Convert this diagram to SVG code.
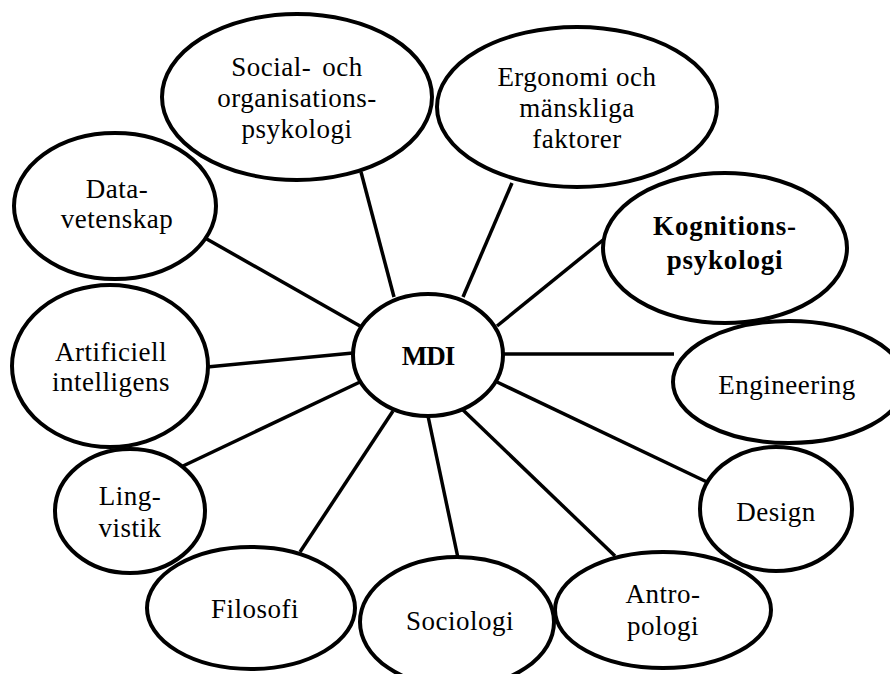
<svg xmlns="http://www.w3.org/2000/svg" width="890" height="674" viewBox="0 0 890 674">
  <style>
    .bg { fill: #ffffff; }
    .node ellipse { fill: none; stroke: #000000; stroke-width: 4; }
    .node text { font-family: "Liberation Serif", "Times New Roman", serif; font-size: 27px; letter-spacing: 0.5px; fill: #000000; text-anchor: middle; }
    .node text.bold { font-weight: bold; letter-spacing: 0.8px; }
    #mdi text { letter-spacing: -1px; }
    #connectors line { stroke: #000000; stroke-width: 3.5; stroke-linecap: butt; }
  </style>
  <rect class="bg" x="0" y="0" width="890" height="674"/>

  <!-- spokes from the centre node -->
  <g id="connectors">
    <line x1="394" y1="297" x2="361" y2="172"/>
    <line x1="463" y1="297" x2="512" y2="183"/>
    <line x1="497" y1="326" x2="603" y2="240"/>
    <line x1="503" y1="354" x2="674" y2="354"/>
    <line x1="497" y1="382" x2="707" y2="482"/>
    <line x1="463" y1="410" x2="615" y2="556"/>
    <line x1="428" y1="416" x2="458" y2="558"/>
    <line x1="393" y1="411" x2="300" y2="552"/>
    <line x1="360" y1="382" x2="183" y2="466"/>
    <line x1="353" y1="353" x2="207" y2="367"/>
    <line x1="360" y1="326" x2="205" y2="238"/>
  </g>

  <g id="mdi" class="node">
    <ellipse cx="428" cy="355" rx="75" ry="61"/>
    <text class="bold" x="428" y="365">MDI</text>
  </g>

  <g id="social" class="node">
    <ellipse cx="297" cy="97" rx="135" ry="83"/>
    <text x="297" y="76" word-spacing="4">Social- och</text>
    <text x="297" y="107">organisations-</text>
    <text x="297" y="138">psykologi</text>
  </g>

  <g id="ergonomi" class="node">
    <ellipse cx="577" cy="107" rx="140" ry="80"/>
    <text x="577" y="86">Ergonomi och</text>
    <text x="577" y="117">mänskliga</text>
    <text x="577" y="148">faktorer</text>
  </g>

  <g id="kognition" class="node">
    <ellipse cx="725" cy="248" rx="122" ry="75"/>
    <text class="bold" x="725" y="235">Kognitions-</text>
    <text class="bold" x="725" y="269">psykologi</text>
  </g>

  <g id="engineering" class="node">
    <ellipse cx="789" cy="382" rx="116" ry="61"/>
    <text x="787" y="394">Engineering</text>
  </g>

  <g id="design" class="node">
    <ellipse cx="776" cy="509" rx="76" ry="62"/>
    <text x="776" y="521">Design</text>
  </g>

  <g id="antropologi" class="node">
    <ellipse cx="663" cy="610" rx="108" ry="58"/>
    <text x="663" y="603">Antro-</text>
    <text x="663" y="635">pologi</text>
  </g>

  <g id="sociologi" class="node">
    <ellipse cx="457" cy="622" rx="97" ry="65"/>
    <text x="460" y="630">Sociologi</text>
  </g>

  <g id="filosofi" class="node">
    <ellipse cx="251" cy="608" rx="104" ry="61"/>
    <text x="255" y="618">Filosofi</text>
  </g>

  <g id="lingvistik" class="node">
    <ellipse cx="130" cy="511" rx="75" ry="62"/>
    <text x="130" y="505">Ling-</text>
    <text x="130" y="537">vistik</text>
  </g>

  <g id="ai" class="node">
    <ellipse cx="110" cy="366" rx="98" ry="81"/>
    <text x="111" y="361">Artificiell</text>
    <text x="111" y="391">intelligens</text>
  </g>

  <g id="datavetenskap" class="node">
    <ellipse cx="115" cy="206" rx="101" ry="73"/>
    <text x="117" y="198">Data-</text>
    <text x="117" y="228">vetenskap</text>
  </g>
</svg>
